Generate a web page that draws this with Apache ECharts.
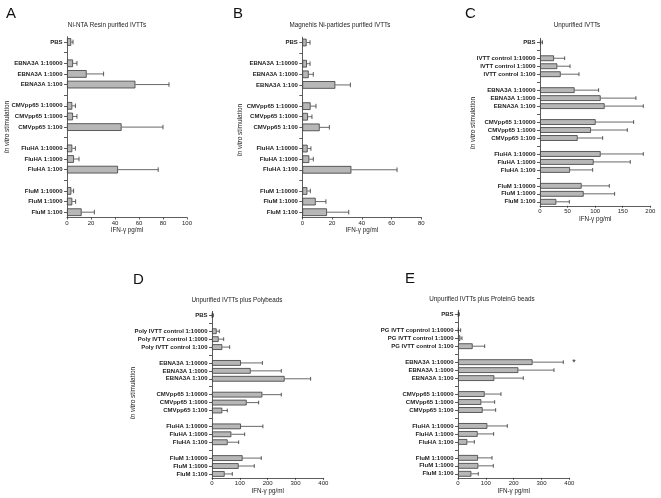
<!DOCTYPE html>
<html><head><meta charset="utf-8">
<script src="https://cdn.jsdelivr.net/npm/echarts@6/dist/echarts.min.js"></script>
<style>html,body{margin:0;padding:0;background:#fff}#c{width:661px;height:498px}</style>
</head><body><div id="c"></div>
<script>
// ---------- DATA ----------
const catsA = ['PBS','','EBNA3A 1:10000','EBNA3A 1:1000','EBNA3A 1:100','','CMVpp65 1:10000','CMVpp65 1:1000','CMVpp65 1:100','','FluHA 1:10000','FluHA 1:1000','FluHA 1:100','','FluM 1:10000','FluM 1:1000','FluM 1:100'];
const catsB = catsA.slice();
const catsC = ['PBS','','IVTT control 1:10000','IVTT control 1:1000','IVTT control 1:100','','EBNA3A 1:10000','EBNA3A 1:1000','EBNA3A 1:100','','CMVpp65 1:10000','CMVpp65 1:1000','CMVpp65 1:100','','FluHA 1:10000','FluHA 1:1000','FluHA 1:100','','FluM 1:10000','FluM 1:1000','FluM 1:100'];
const catsD = ['PBS','','Poly IVTT control 1:10000','Poly IVTT control 1:1000','Poly IVTT control 1:100','','EBNA3A 1:10000','EBNA3A 1:1000','EBNA3A 1:100','','CMVpp65 1:10000','CMVpp65 1:1000','CMVpp65 1:100','','FluHA 1:10000','FluHA 1:1000','FluHA 1:100','','FluM 1:10000','FluM 1:1000','FluM 1:100'];
const catsE = ['PBS','','PG IVTT copntrol 1:10000','PG IVTT control 1:1000','PG IVTT control 1:100','','EBNA3A 1:10000','EBNA3A 1:1000','EBNA3A 1:100','','CMVpp65 1:10000','CMVpp65 1:1000','CMVpp65 1:100','','FluHA 1:10000','FluHA 1:1000','FluHA 1:100','','FluM 1:10000','FluM 1:1000','FluM 1:100'];

// mean values (IFN-gamma pg/ml) and upper end of error bars (mean + SD); null = spacer row
const meanA = [3.5,null,5,16.4,57,null,4.4,5,45.5,null,4.4,5.8,42.5,null,3.6,4.4,12.2];
const hiA   = [5,null,8.3,30.5,85,null,7,8.3,80,null,7,10,76,null,5.5,7.2,22.8];
const meanB = [2.9,null,3.1,4.3,22.2,null,5.6,3.8,11.7,null,3.6,4.7,33,null,3.4,9,16.6];
const hiB   = [5.2,null,5.2,7.4,32.3,null,9.2,6.5,18.2,null,5.8,7.4,63.7,null,5.4,15.9,31.2];
const meanC = [2,null,25.4,31.4,37.5,null,62.8,110,117.2,null,100.9,92.4,68.3,null,110,97.3,54.4,null,75.5,79.2,29.6];
const hiC   = [4.5,null,44.7,54.4,70.7,null,106.3,174,187.3,null,169.8,158.3,113.6,null,187.3,163.7,95.5,null,125.7,135.3,53.2];
const meanD = [2,null,16.8,24,37,null,104,139,261,null,181,124.6,37,null,104,69.5,56.3,null,110,95.8,45.5];
const hiD   = [5,null,26.3,42,63.5,null,181,249,354.5,null,249,167.7,55,null,183,117.4,95.8,null,177,152,73];
const meanE = [2.4,null,2.4,8.4,52.7,null,268,216.8,130.5,null,95.8,83.8,88.6,null,105.4,70.7,33.5,null,71.9,73,48];
const hiE   = [4.8,null,9.6,14.4,95.8,null,378.4,345,234.7,null,154.5,131.7,135.3,null,177.2,128.1,58.7,null,122.2,127,73];

const xMax = [100, 80, 200, 400, 400];
const xStep = [20, 20, 50, 100, 100];
const titles = ['Ni-NTA Resin purified IVTTs','Magnehis Ni-particles purified IVTTs','Unpurified IVTTs','Unpurified IVTTs plus Polybeads','Unpurified IVTTs plus ProteinG beads'];
const letters = ['A','B','C','D','E'];
const xName = 'IFN-\u03b3 pg/ml';
const yName = '{i|In vitro} stimulation';

// ---------- LAYOUT ----------
const panels = [
  {cats: catsA, mean: meanA, hi: hiA, grid:{left:67, top:36.7, width:120, height:180.8}, cap:2.3,
   title:[107,25], letter:[6,6], yname:[7,127]},
  {cats: catsB, mean: meanB, hi: hiB, grid:{left:302.3, top:37.2, width:119, height:180.3}, cap:2.3,
   title:[340,25], letter:[233,6], yname:[240,130]},
  {cats: catsC, mean: meanC, hi: hiC, grid:{left:540, top:38.3, width:110.3, height:167.5}, cap:1.9,
   title:[577,25], letter:[465,6], yname:[473,123]},
  {cats: catsD, mean: meanD, hi: hiD, grid:{left:212, top:311.4, width:111.3, height:166.5}, cap:1.9,
   title:[237,300], letter:[133,272], yname:[133,393]},
  {cats: catsE, mean: meanE, hi: hiE, grid:{left:458, top:310.3, width:111.3, height:167.5}, cap:1.9,
   title:[482,299], letter:[405,271], yname:null}
];

const FONT = '"Liberation Sans", Arial, sans-serif';
const grids = [], xAxes = [], yAxes = [], series = [], graphics = [];

panels.forEach((p, k) => {
  grids.push(Object.assign({containLabel:false}, p.grid));
  xAxes.push({
    type:'value', gridIndex:k, min:0, max:xMax[k], interval:xStep[k],
    name: xName, nameLocation:'middle', nameGap:10,
    nameTextStyle:{fontSize:6.3, color:'#222', fontFamily:FONT},
    axisLine:{show:true, lineStyle:{color:'#333', width:0.8}},
    axisTick:{show:true, length:2, lineStyle:{color:'#333', width:0.8}},
    axisLabel:{fontSize:6, color:'#222', margin:2.5, fontFamily:FONT},
    splitLine:{show:false}
  });
  yAxes.push({
    type:'category', gridIndex:k, inverse:true,
    data: p.cats.map((c,i) => c === '' ? ('gap' + i) : c),
    axisLine:{show:true, lineStyle:{color:'#333', width:0.8}},
    axisTick:{show:true, alignWithLabel:true, interval:0, length:3, lineStyle:{color:'#333', width:0.8}},
    axisLabel:{interval:0, fontSize:6, fontWeight:'bold', color:'#222', margin:4.5, fontFamily:FONT,
      formatter: v => v.startsWith('gap') ? '' : v}
  });
  series.push({
    type:'bar', xAxisIndex:k, yAxisIndex:k, data:p.mean, barCategoryGap:'28%',
    itemStyle:{color:'#b7b7b7', borderColor:'#3a3a3a', borderWidth:0.8},
    silent:true, z:2
  });
  const ed = [];
  p.mean.forEach((m,i) => { if (m != null) ed.push([m, i, p.hi[i]]); });
  const cap = p.cap;
  series.push({
    type:'custom', xAxisIndex:k, yAxisIndex:k, data:ed, encode:{x:[0,2], y:1}, silent:true, z:3,
    renderItem(params, api){
      const a = api.coord([api.value(0), api.value(1)]);
      const b = api.coord([api.value(2), api.value(1)]);
      return {type:'group', children:[
        {type:'line', shape:{x1:a[0], y1:a[1], x2:b[0], y2:b[1]}, style:{stroke:'#444', lineWidth:0.8}},
        {type:'line', shape:{x1:b[0], y1:b[1]-cap, x2:b[0], y2:b[1]+cap}, style:{stroke:'#333', lineWidth:0.8}}
      ]};
    }
  });
  graphics.push({type:'text', x:p.title[0], y:p.title[1],
    style:{text:titles[k], fontSize:6.3, fill:'#222', align:'center', verticalAlign:'middle', fontFamily:FONT}});
  graphics.push({type:'text', x:p.letter[0], y:p.letter[1],
    style:{text:letters[k], fontSize:15, fill:'#111', align:'left', verticalAlign:'top', fontFamily:FONT}});
  if (p.yname) {
    graphics.push({type:'text', x:p.yname[0], y:p.yname[1], rotation:Math.PI/2,
      style:{text:yName, fontSize:6.5, fill:'#222', align:'center', verticalAlign:'middle', fontFamily:FONT,
        rich:{i:{fontStyle:'italic', fontSize:6.5, fill:'#222', fontFamily:FONT}}}});
  }
});
graphics.push({type:'text', x:574, y:363, style:{text:'*', fontSize:9, fill:'#222', align:'center', verticalAlign:'middle', fontFamily:FONT}});

const chart = echarts.init(document.getElementById('c'), null, {renderer:'canvas'});
chart.setOption({
  animation:false,
  textStyle:{fontFamily:FONT},
  grid:grids, xAxis:xAxes, yAxis:yAxes, series:series, graphic:graphics
});
</script>
</body></html>
